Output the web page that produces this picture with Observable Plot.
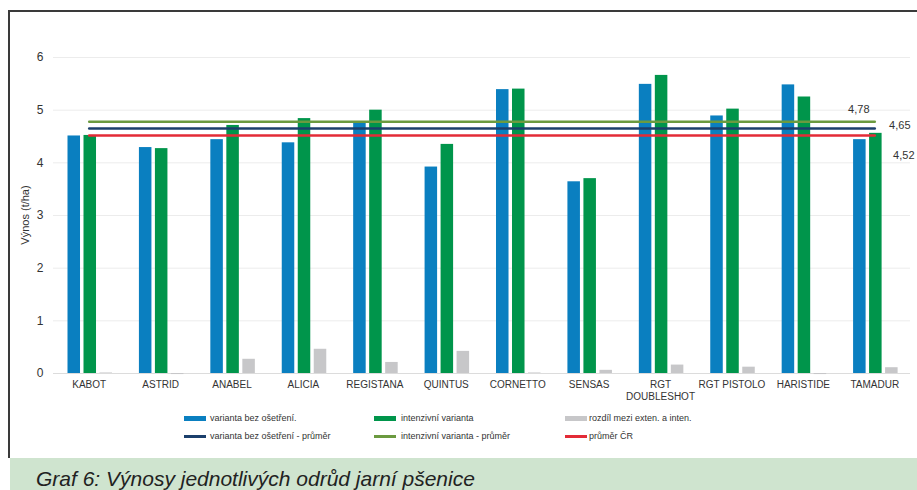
<!DOCTYPE html>
<html><head><meta charset="utf-8">
<script src="https://cdn.jsdelivr.net/npm/d3@7"></script>
<script src="https://cdn.jsdelivr.net/npm/@observablehq/plot@0.6"></script>
<style>
body{margin:0;width:917px;height:490px;overflow:hidden;position:relative;background:#fff;font-family:"Liberation Sans",Arial,sans-serif;color:#333;}
#frame{position:absolute;left:8px;top:10px;width:1000px;height:448px;border-top:2px solid #3a3a3a;border-left:2px solid #3a3a3a;box-sizing:border-box;}
#chart{position:absolute;left:0;top:0;}
#ylabel{position:absolute;left:25px;top:215px;transform:translate(-50%,-50%) rotate(-90deg);font-size:11px;white-space:nowrap;color:#333;}
.leg{position:absolute;font-size:9px;line-height:12px;height:12px;white-space:nowrap;color:#333;}
.sw{position:absolute;left:0;}
.leg span.t{position:absolute;white-space:nowrap;}
#band{position:absolute;left:10px;top:458px;width:907px;height:40px;background:#cfe4cf;overflow:hidden;}
#band span{position:absolute;left:26px;top:8px;font-size:21px;font-style:italic;color:#222;white-space:nowrap;line-height:26px;}
</style></head><body>
<div id="frame"></div>
<div id="chart"></div>
<div id="ylabel">Výnos (t/ha)</div>
<div id="legend"></div>
<div id="band"><span>Graf 6: Výnosy jednotlivých odrůd jarní pšenice</span></div>
<script>
const categories = ["KABOT","ASTRID","ANABEL","ALICIA","REGISTANA","QUINTUS","CORNETTO","SENSAS","RGT DOUBLESHOT","RGT PISTOLO","HARISTIDE","TAMADUR"];
const categoryLabels = ["KABOT","ASTRID","ANABEL","ALICIA","REGISTANA","QUINTUS","CORNETTO","SENSAS","RGT\nDOUBLESHOT","RGT PISTOLO","HARISTIDE","TAMADUR"];
const untreated = [4.51,4.29,4.44,4.38,4.78,3.92,5.39,3.64,5.49,4.89,5.48,4.44];
const intensive = [4.52,4.27,4.71,4.84,5.00,4.35,5.40,3.70,5.66,5.02,5.25,4.56];
const difference = [0.01,-0.02,0.27,0.46,0.21,0.42,0.01,0.06,0.16,0.12,-0.02,0.11];
const barSeriesNames = ["varianta bez ošetření.","intenzivní varianta","rozdíl mezi exten. a inten."];
const meanSeriesNames = ["varianta bez ošetření - průměr","intenzivní varianta - průměr","průměr ČR"];
const meanValues = [4.65, 4.78, 4.52];
const meanLabels = ["4,65","4,78","4,52"];
const yTicks = [0,1,2,3,4,5,6];

const barColors = ["#0a7fc0","#00954b","#c7c7c9"];
const lineColors = ["#1b3f6c","#6b9a3f","#e32b37"];
const barInsets = [[14.5,44.4],[30.5,28.4],[46.5,12.4]];
const labelOffsets = [[25,-3],[-16,-12],[29,20]];
const barData = [untreated, intensive, difference];

const marks = [
  Plot.ruleY(yTicks.filter(d => d > 0), {stroke:"#ececec", strokeWidth:1}),
  Plot.ruleY([0], {stroke:"#dcdcdc", strokeWidth:1})
];
barData.forEach((arr, k) => {
  marks.push(Plot.barY(categories, {x: d => d, y: (d, i) => arr[i], fill: barColors[k],
    insetLeft: barInsets[k][0], insetRight: barInsets[k][1]}));
});
[1,0,2].forEach(k => {
  marks.push(Plot.lineY(categories, {x: d => d, y: () => meanValues[k], stroke: lineColors[k], strokeWidth: 2.5}));
});
[1,0,2].forEach(k => {
  marks.push(Plot.text([categories[categories.length-1]], {x: d => d, y: () => meanValues[k], text: () => meanLabels[k],
    dx: labelOffsets[k][0], dy: labelOffsets[k][1], fontSize: 11, fill: "#333"}));
});
marks.push(Plot.text(categories, {x: d => d, y: () => 0, text: (d, i) => categoryLabels[i], dy: 6,
  lineAnchor: "top", lineHeight: 1.2, fontSize: 10, fill: "#333"}));

const chart = Plot.plot({
  width: 917, height: 405,
  marginLeft: 53, marginRight: 7, marginTop: 57, marginBottom: 32,
  x: {domain: categories, padding: 0, round: false, axis: null},
  y: {domain: [0, 6], ticks: yTicks, tickSize: 0, tickPadding: 10, label: null, tickFormat: d => String(d)},
  style: {fontSize: "12px", fontFamily: '"Liberation Sans", Arial, sans-serif', color: "#333", background: "transparent", overflow: "visible"},
  marks
});
document.getElementById("chart").appendChild(chart);

const legend = document.getElementById("legend");
const cols = [184, 374, 565];
const textOff = [26, 27, 24];
barSeriesNames.forEach((name, k) => {
  const el = document.createElement("div");
  el.className = "leg";
  el.style.left = cols[k] + "px"; el.style.top = "412px";
  el.innerHTML = `<div class="sw" style="top:4px;width:22px;height:5px;background:${barColors[k]}"></div><span class="t" style="left:${textOff[k]}px">${name}</span>`;
  legend.appendChild(el);
});
meanSeriesNames.forEach((name, k) => {
  const el = document.createElement("div");
  el.className = "leg";
  el.style.left = cols[k] + "px"; el.style.top = "430px";
  el.innerHTML = `<div class="sw" style="top:5px;width:22px;height:2.5px;background:${lineColors[k]}"></div><span class="t" style="left:${textOff[k]}px">${name}</span>`;
  legend.appendChild(el);
});
</script>
</body></html>
